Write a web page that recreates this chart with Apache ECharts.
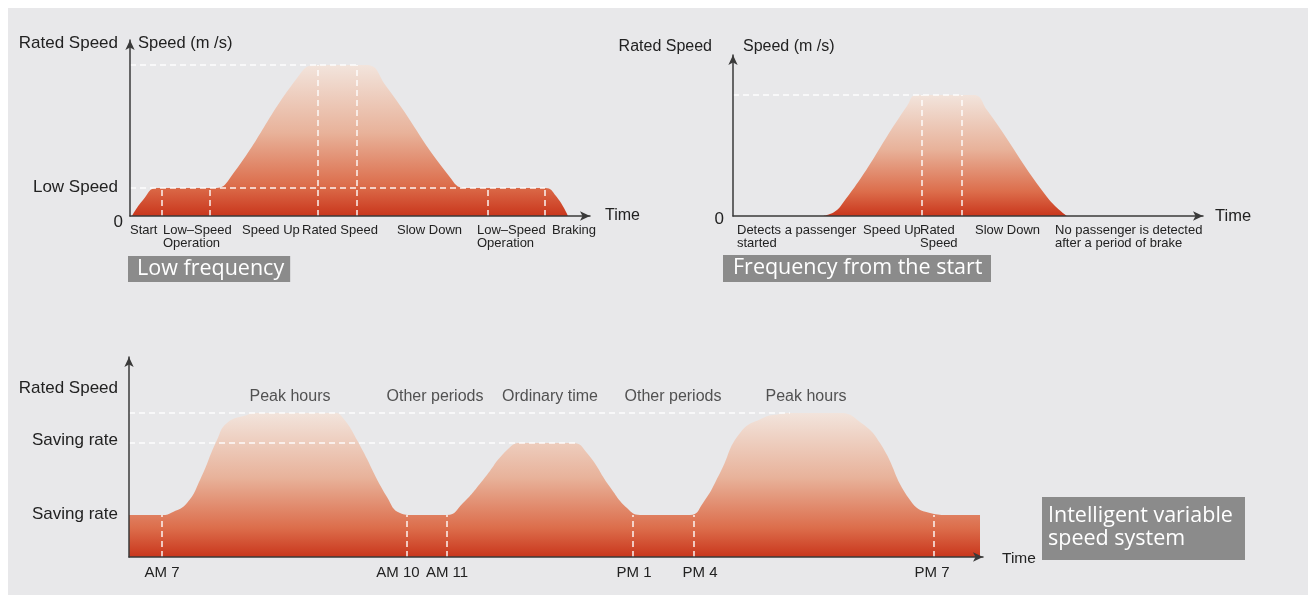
<!DOCTYPE html>
<html>
<head>
<meta charset="utf-8">
<script src="https://cdn.jsdelivr.net/npm/echarts@6/dist/echarts.min.js"></script>
<style>
html,body{margin:0;padding:0;background:#fff;}
#main{width:1308px;height:595px;}
</style>
</head>
<body>
<div id="main"></div>
<script>
// ---------- Chart 1: Low frequency (speed as % of rated speed) ----------
const lfTime  = [2, 13, 27, 84, 98, 170, 186, 236, 256, 319, 336, 415, 426, 438];
const lfSpeed = [0, 10.6, 18.5, 18.5, 23.2, 94, 100, 100, 86.1, 26.5, 18.5, 18.5, 13.2, 0];
const lfLowLevel = 18.5;
const lfRated = 100;
const lfLowGuides = [32, 80, 358, 415];
const lfRatedGuides = [188, 227];
const lfTickPos = [0, 33, 112, 172, 267, 347, 422];
const lfTickLabels = ['Start', 'Low\u2013Speed\nOperation', 'Speed Up', 'Rated Speed', 'Slow Down', 'Low\u2013Speed\nOperation', 'Braking'];
const lfYPos = [0, 19.2, 114.6];
const lfYLabels = ['0', 'Low Speed', 'Rated Speed'];

// ---------- Chart 2: Frequency from the start ----------
const fsTime  = [90, 107, 174, 184, 240, 254, 314, 334];
const fsSpeed = [0, 7.4, 90.9, 100, 100, 87.6, 15.7, 0];
const fsRated = 100;
const fsRatedGuides = [189, 229];
const fsTickPos = [4, 130, 187, 242, 322];
const fsTickLabels = ['Detects a passenger\nstarted', 'Speed Up', 'Rated\nSpeed', 'Slow Down', 'No passenger is detected\nafter a period of brake'];

// ---------- Chart 3: Intelligent variable speed system ----------
const ivTime  = [0, 33, 44, 58, 71, 88, 98, 118, 126, 206, 214, 228, 258, 271, 284, 318, 334, 354, 378, 392, 444, 458, 481, 498, 511, 561, 574, 591, 611, 634, 651, 661, 711, 731, 751, 781, 801, 821, 851];
const ivSpeed = [29.2, 29.2, 31.3, 37.5, 53.5, 81.3, 93.1, 98.6, 100, 100, 96.5, 81.3, 41.7, 30.6, 29.2, 29.2, 37.5, 53.5, 74.3, 79.2, 79.2, 72.2, 48.6, 34, 29.2, 29.2, 37.5, 58.3, 86.1, 96.5, 99.3, 100, 100, 93.8, 79.2, 39.6, 30.6, 29.2, 29.2];
const ivLowLevel = 29.2;
const ivMidLevel = 79.2;
const ivRated = 100;
const ivGuides = [33, 278, 318, 504, 565, 805];
const ivRatedEnd = 661;
const ivMidEnd = 446;
const ivTickPos = [33, 269, 318, 505, 571, 803];
const ivTickLabels = ['AM 7', 'AM 10', 'AM 11', 'PM 1', 'PM 4', 'PM 7'];
const ivYPos = [29.9, 81.25, 117.4];
const ivYLabels = ['Saving rate', 'Saving rate', 'Rated Speed'];
const ivPeriodPos = [161, 306, 421, 544, 677];
const ivPeriodLevel = 111.1;
const ivPeriodLabels = ['Peak hours', 'Other periods', 'Ordinary time', 'Other periods', 'Peak hours'];

// ---------- helpers ----------
const FONT = 'Liberation Sans, Arial, Helvetica, sans-serif';
const TXT = '#222';
const zip = (a, b) => a.map((v, i) => [v, b[i]]);
const lookup = (pos, labels) => (v) => {
  const i = pos.findIndex(p => Math.abs(p - v) < 1e-6);
  return i >= 0 ? labels[i] : '';
};
const grad = {
  type: 'linear', x: 0, y: 0, x2: 0, y2: 1,
  colorStops: [
    { offset: 0, color: '#f2e4dc' },
    { offset: 0.45, color: '#e8b29a' },
    { offset: 0.8, color: '#dc6d4b' },
    { offset: 1, color: '#c9361c' }
  ]
};
const dashStyle = { color: 'rgba(255,255,255,0.92)', type: [6, 4], width: 1.5 };
const vLine = (x, h) => [{ coord: [x, 0] }, { coord: [x, h] }];
const hLine = (x0, x1, y) => [{ coord: [x0, y] }, { coord: [x1, y] }];
const axisLineStyle = { show: true, lineStyle: { color: '#3a3a3a', width: 1.5 }, symbol: ['none', 'arrow'], symbolSize: [7, 10] };
const boxText = { color: '#fff', fontSize: 21.5, fontWeight: 'normal', fontFamily: 'Open Sans', lineHeight: 22 };

function areaSeries(xi, yi, data, guides) {
  return {
    type: 'line', xAxisIndex: xi, yAxisIndex: yi, data: data,
    smooth: 0.5, showSymbol: false, symbol: 'none',
    lineStyle: { width: 0 }, areaStyle: { color: grad, opacity: 1 },
    silent: true, z: 2,
    markLine: { symbol: 'none', silent: true, label: { show: false }, lineStyle: dashStyle, data: guides }
  };
}

const lfGuideLines = []
  .concat(lfLowGuides.map(x => vLine(x, lfLowLevel)))
  .concat(lfRatedGuides.map(x => vLine(x, lfRated)))
  .concat([hLine(0, lfRatedGuides[1], lfRated), hLine(0, lfLowGuides[3], lfLowLevel)]);
const fsGuideLines = fsRatedGuides.map(x => vLine(x, fsRated))
  .concat([hLine(0, fsRatedGuides[1], fsRated)]);
const ivGuideLines = ivGuides.map(x => vLine(x, ivLowLevel))
  .concat([hLine(0, ivRatedEnd, ivRated), hLine(0, ivMidEnd, ivMidLevel)]);

const option = {
  animation: false,
  backgroundColor: '#ffffff',
  graphic: [{ type: 'rect', z: -100, shape: { x: 8, y: 8, width: 1300, height: 587 }, style: { fill: '#e8e8ea' } }],
  title: [
    { text: 'Low frequency', left: 128, top: 256, backgroundColor: '#8b8b8b', padding: [2, 6, 2, 9],
      textStyle: Object.assign({ width: 146 }, boxText) },
    { text: 'Frequency from the start', left: 723, top: 255, backgroundColor: '#8b8b8b', padding: [2, 6, 3, 10],
      textStyle: Object.assign({ width: 252 }, boxText) },
    { text: 'Intelligent variable\nspeed system', left: 1042, top: 497, backgroundColor: '#8b8b8b', padding: [7, 6, 10, 6],
      textStyle: Object.assign({}, boxText, { width: 191, lineHeight: 23 }) }
  ],
  grid: [
    { left: 130, top: 40, width: 460, height: 176 },
    { left: 733, top: 55, width: 470, height: 161 },
    { left: 129, top: 357, width: 854, height: 200 }
  ],
  xAxis: [
    { type: 'value', gridIndex: 0, z: 5, min: 0, max: 460, axisLine: axisLineStyle, axisTick: { show: false }, splitLine: { show: false },
      name: 'Time', nameLocation: 'end', nameGap: 15, nameTextStyle: { color: TXT, fontSize: 16, fontFamily: FONT, verticalAlign: 'middle', padding: [0, 0, 4, 0] },
      axisLabel: { customValues: lfTickPos, formatter: lookup(lfTickPos, lfTickLabels), align: 'left', margin: 8, color: TXT, fontSize: 13, lineHeight: 13, fontFamily: FONT } },
    { type: 'value', gridIndex: 1, z: 5, min: 0, max: 470, axisLine: axisLineStyle, axisTick: { show: false }, splitLine: { show: false },
      name: 'Time', nameLocation: 'end', nameGap: 12, nameTextStyle: { color: TXT, fontSize: 16.5, fontFamily: FONT, verticalAlign: 'middle' },
      axisLabel: { customValues: fsTickPos, formatter: lookup(fsTickPos, fsTickLabels), align: 'left', margin: 8, color: TXT, fontSize: 13, lineHeight: 13, fontFamily: FONT } },
    { type: 'value', gridIndex: 2, z: 5, min: 0, max: 854, axisLine: axisLineStyle, axisTick: { show: false }, splitLine: { show: false },
      name: 'Time', nameLocation: 'end', nameGap: 19, nameTextStyle: { color: TXT, fontSize: 15.5, fontFamily: FONT, verticalAlign: 'top', padding: [-6, 0, 0, 0] },
      axisLabel: { customValues: ivTickPos, formatter: lookup(ivTickPos, ivTickLabels), align: 'center', margin: 8, color: TXT, fontSize: 15, fontFamily: FONT } }
  ],
  yAxis: [
    { type: 'value', gridIndex: 0, z: 5, min: 0, max: 116.6, axisLine: axisLineStyle, axisTick: { show: false }, splitLine: { show: false },
      name: 'Speed (m /s)', nameLocation: 'end', nameGap: -3,
      nameTextStyle: { color: TXT, fontSize: 16.5, fontFamily: FONT, align: 'left', verticalAlign: 'middle', padding: [0, 0, 0, 8] },
      axisLabel: { customValues: lfYPos, margin: 7, color: TXT, fontFamily: FONT,
        formatter: (v) => { const t = lookup(lfYPos, lfYLabels)(v); return t === '0' ? '{z|0}' : '{n|' + t + '}'; },
        rich: { z: { fontSize: 17, padding: [12, 0, 0, 0], color: TXT, fontFamily: FONT }, n: { fontSize: 17, padding: [0, 5, 0, 0], color: TXT, fontFamily: FONT } } } },
    { type: 'value', gridIndex: 1, z: 5, min: 0, max: 133.06, axisLine: axisLineStyle, axisTick: { show: false }, splitLine: { show: false },
      name: 'Speed (m /s)', nameLocation: 'end', nameGap: 8,
      nameTextStyle: { color: TXT, fontSize: 16, fontFamily: FONT, align: 'left', verticalAlign: 'middle', padding: [0, 0, 0, 10] },
      axisLabel: { customValues: [0], margin: 9, color: TXT, fontFamily: FONT,
        formatter: () => '{z|0}', rich: { z: { fontSize: 17, padding: [6, 0, 0, 0], color: TXT, fontFamily: FONT } } } },
    { type: 'value', gridIndex: 1, min: 0, max: 133.06, position: 'left', axisLine: { show: false }, axisTick: { show: false }, splitLine: { show: false }, axisLabel: { show: false },
      name: 'Rated Speed', nameLocation: 'end', nameGap: 8,
      nameTextStyle: { color: TXT, fontSize: 16, fontFamily: FONT, align: 'right', verticalAlign: 'middle', padding: [0, 21, 0, 0] } },
    { type: 'value', gridIndex: 2, z: 5, min: 0, max: 138.9, axisLine: axisLineStyle, axisTick: { show: false }, splitLine: { show: false },
      axisLabel: { customValues: ivYPos, formatter: lookup(ivYPos, ivYLabels), margin: 11, color: TXT, fontSize: 17, fontFamily: FONT } }
  ],
  series: [
    areaSeries(0, 0, zip(lfTime, lfSpeed), lfGuideLines),
    areaSeries(1, 1, zip(fsTime, fsSpeed), fsGuideLines),
    areaSeries(2, 3, zip(ivTime, ivSpeed), ivGuideLines),
    { type: 'scatter', xAxisIndex: 2, yAxisIndex: 3, symbolSize: 1, silent: true,
      itemStyle: { color: 'transparent' },
      data: ivPeriodPos.map((x, i) => ({ name: ivPeriodLabels[i], value: [x, ivPeriodLevel] })),
      label: { show: true, position: 'inside', formatter: '{b}', color: '#2a2a2a', fontSize: 16, fontFamily: FONT } }
  ]
};

const chart = echarts.init(document.getElementById('main'));
chart.setOption(option);
</script>
</body>
</html>
